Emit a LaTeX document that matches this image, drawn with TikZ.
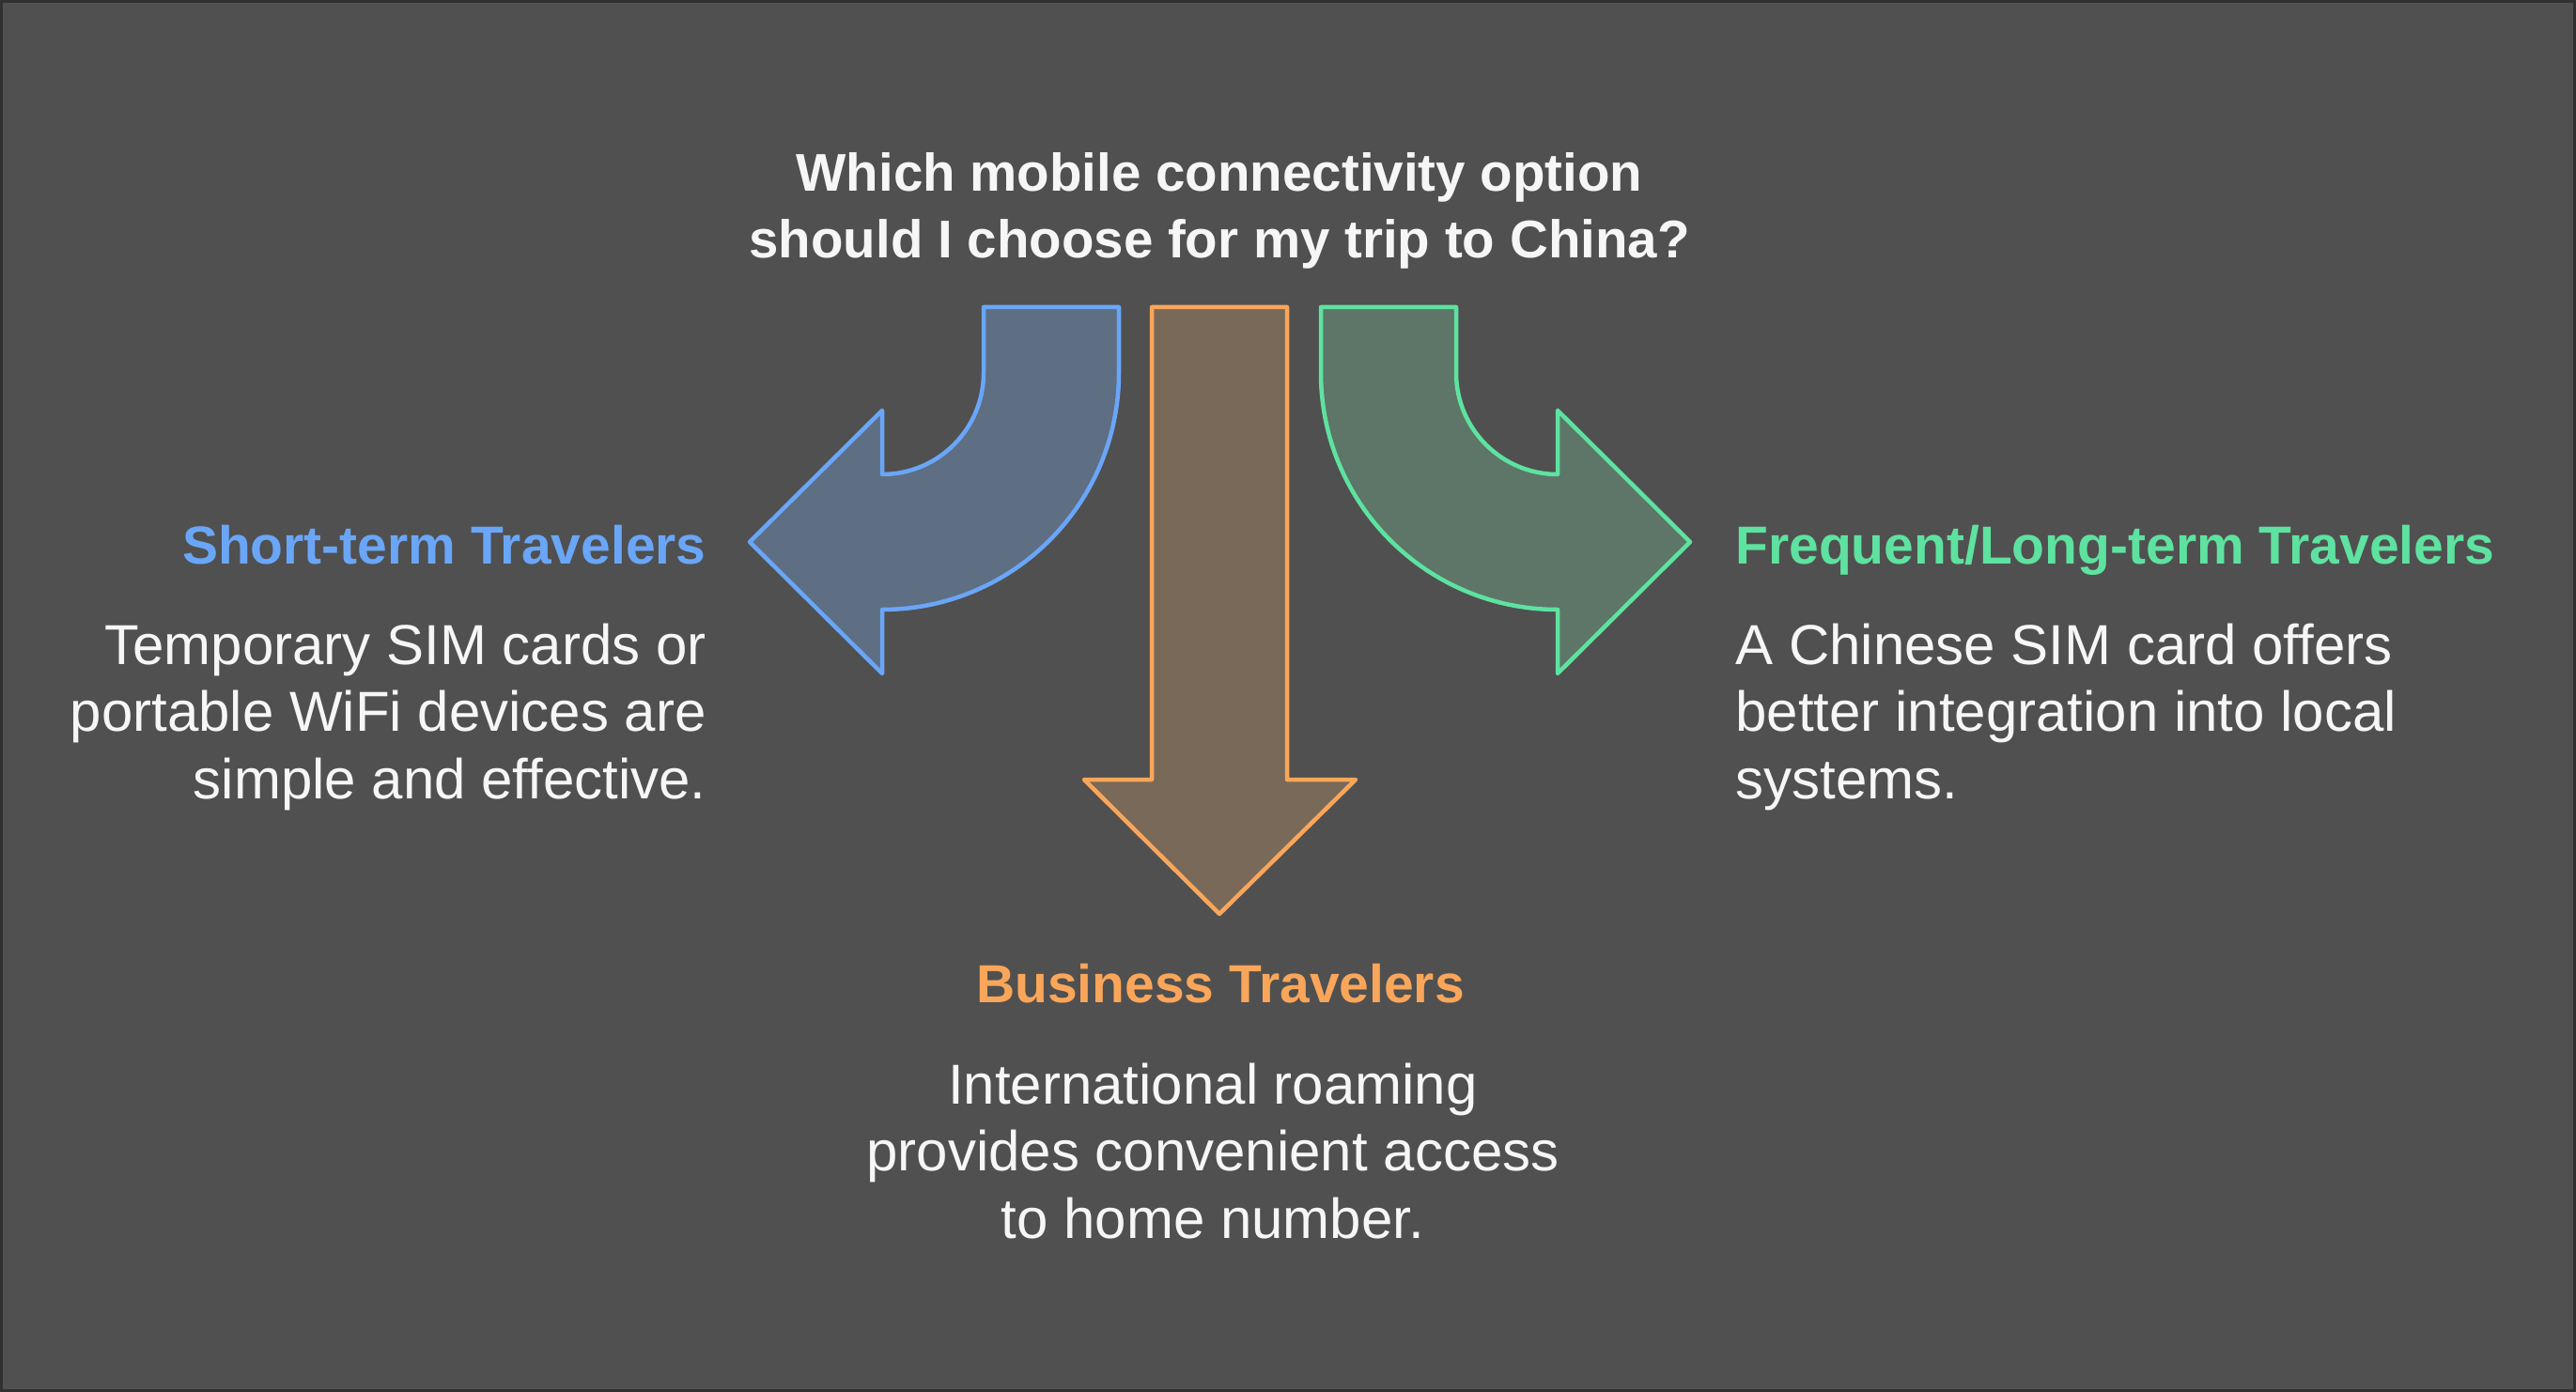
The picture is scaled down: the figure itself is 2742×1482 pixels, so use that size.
\documentclass[tikz,border=0pt]{standalone}
\usepackage{fontspec}
\setmainfont{Liberation Sans}
\definecolor{bgc}{RGB}{80,80,80}
\definecolor{framec}{RGB}{48,48,48}
\definecolor{txtc}{RGB}{246,246,246}
\definecolor{blueS}{RGB}{106,166,248}
\definecolor{blueF}{RGB}{94,110,131}
\definecolor{orangeS}{RGB}{250,166,90}
\definecolor{orangeF}{RGB}{121,105,89}
\definecolor{greenS}{RGB}{94,226,160}
\definecolor{greenF}{RGB}{93,118,104}
\tikzset{
  arrowshape/.style={line width=2.25pt, line join=round},
  titletext/.style={inner sep=0pt, text=txtc, align=center, font=\fontsize{28.25pt}{35.5pt}\selectfont\bfseries},
  headtext/.style={inner sep=0pt, font=\fontsize{28.5pt}{35.75pt}\selectfont\bfseries},
  bodytext/.style={inner sep=0pt, text=txtc, font=\fontsize{30pt}{35.75pt}\selectfont},
}
\begin{document}
\begin{tikzpicture}[x=0.5pt,y=-0.5pt]
\useasboundingbox (0,0) rectangle (2742,1482);
\fill[framec] (0,0) rectangle (2742,1482);
\fill[bgc] (3,3) rectangle (2739,1479);

% blue arrow (left)
\draw[arrowshape, draw=blueS, fill=blueF]
  (1047,327) -- (1191,327) -- (1191,397)
  arc[start angle=0, end angle=90, radius=252]
  -- (939,717) -- (798,577) -- (939,437) -- (939,505)
  arc[start angle=90, end angle=0, radius=108]
  -- cycle;

% orange arrow (down)
\draw[arrowshape, draw=orangeS, fill=orangeF]
  (1226,327) -- (1370,327) -- (1370,830) -- (1443,830)
  -- (1298,973) -- (1154,830) -- (1226,830) -- cycle;

% green arrow (right)
\draw[arrowshape, draw=greenS, fill=greenF]
  (1406,327) -- (1550,327) -- (1550,397)
  arc[start angle=180, end angle=90, radius=108]
  -- (1658,437) -- (1799,577) -- (1658,717) -- (1658,649)
  arc[start angle=90, end angle=180, radius=252]
  -- cycle;

% multi-line nodes: base anchor = baseline of the last line
\node[titletext, anchor=base] (title) at (1298,275)
  {Which mobile connectivity option\\should I choose for my trip to China?};

\node[headtext, text=blueS, anchor=base east] (shorthead) at (752,600) {Short-term Travelers};
\node[bodytext, anchor=base east, align=right] (shortbody) at (752,850)
  {Temporary SIM cards or\\portable WiFi devices are\\simple and effective.};

\node[headtext, text=orangeS, anchor=base] (bizhead) at (1299,1067) {Business Travelers};
\node[bodytext, anchor=base, align=center] (bizbody) at (1291,1318)
  {International roaming\\provides convenient access\\to home number.};

\node[headtext, text=greenS, anchor=base west] (freqhead) at (1847,600) {Frequent/Long-term Travelers};
\node[bodytext, anchor=base west, align=left] (freqbody) at (1847,850)
  {A Chinese SIM card offers\\better integration into local\\systems.};
\end{tikzpicture}
\end{document}
